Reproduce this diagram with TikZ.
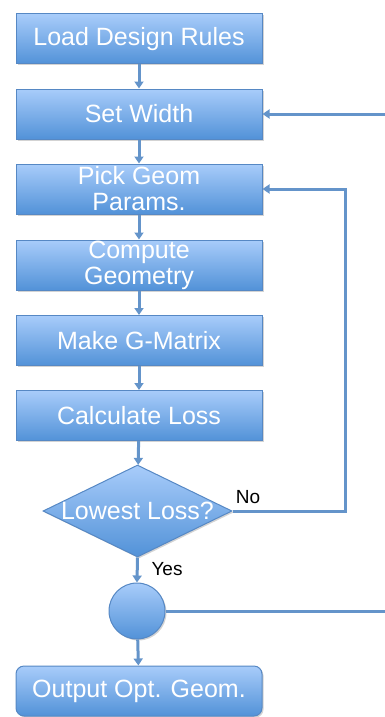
\documentclass[tikz,border=0pt]{standalone}
\usepackage{fontspec}
\setmainfont{Liberation Sans}
\usetikzlibrary{arrows.meta,shapes.geometric,shadows,positioning}
\definecolor{boxtop}{RGB}{168,204,250}
\definecolor{boxbot}{RGB}{82,146,216}
\definecolor{boxedge}{RGB}{86,136,196}
\definecolor{linec}{RGB}{100,148,202}
\tikzset{
  flowbox/.style={draw=boxedge, line width=1pt, top color=boxtop, bottom color=boxbot,
    minimum width=246pt, minimum height=50pt, inner sep=0pt, text=white,
    font=\fontsize{25pt}{26pt}\selectfont, align=center,
    drop shadow={shadow xshift=1.5pt, shadow yshift=-1.5pt, opacity=0.35}},
  conn/.style={draw=linec, line width=3pt, -{Triangle[length=7pt,width=9pt]}},
  plain/.style={draw=linec, line width=3pt},
  lab/.style={text=black, font=\fontsize{19pt}{20pt}\selectfont, inner sep=0pt}
}
\begin{document}
\begin{tikzpicture}[x=1pt,y=-1pt]
\useasboundingbox (0,0) rectangle (385,717);
\node[flowbox] (b1) at (139,39) {Load Design Rules};
\node[flowbox] (b2) at (139,114) {Set Width};
\node[flowbox] (b3) at (139,189) {Pick Geom\\Params.};
\node[flowbox] (b4) at (139,265) {Compute\\Geometry};
\node[flowbox] (b5) at (139,340.5) {Make G-Matrix};
\node[flowbox] (b6) at (139,415.5) {Calculate Loss};
\node[flowbox, diamond, minimum width=189pt, minimum height=92pt, aspect=2.05,
  label={[text=white,font=\fontsize{25pt}{26pt}\selectfont]center:Lowest Loss?}] (d) at (137.5,511) {};
\node[flowbox, circle, minimum width=56pt, minimum height=56pt] (c) at (137,611) {};
\node[flowbox, rounded corners=8pt] (b7) at (139,691) {Output Opt. Geom.};
\coordinate (in2) at (385,114);
\coordinate (out) at (385,611);
\coordinate (loopx) at (345,511);
\draw[conn] (b1) -- (b2);
\draw[conn] (b2) -- (b3);
\draw[conn] (b3) -- (b4);
\draw[conn] (b4) -- (b5);
\draw[conn] (b5) -- (b6);
\draw[conn] (b6) -- (d);
\draw[conn] (d.south) -- (c.north);
\draw[conn] (c) -- (b7);
\draw[conn] (in2) -- (b2.east);
\draw[conn] (d.east) -- (loopx) |- (b3.east);
\draw[plain] (c.east) -- (out);
\node[lab] (no) at (248,497) {No};
\node[lab] (yes) at (167,569) {Yes};
\end{tikzpicture}
\end{document}
